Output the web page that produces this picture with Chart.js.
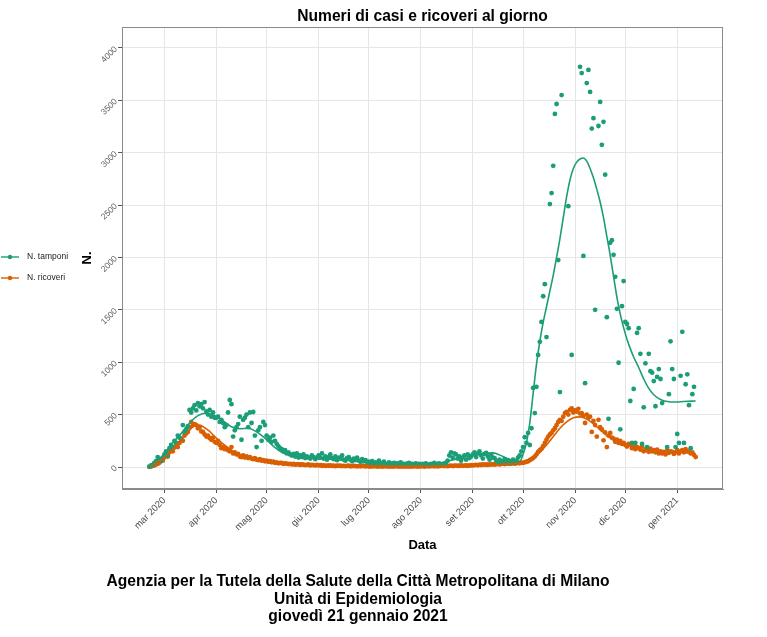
<!DOCTYPE html>
<html>
<head>
<meta charset="utf-8">
<script src="https://cdn.jsdelivr.net/npm/chart.js@4.4.0/dist/chart.umd.min.js"></script>
<style>
  body { margin: 0; background: #fff; font-family: "Liberation Sans", Arial, sans-serif; }
  #wrap { position: relative; width: 767px; height: 637px; overflow: hidden; }
  #chart { position: absolute; left: 0; top: 0; }
  .title { position: absolute; left: 122px; width: 601px; top: 7px; text-align: center; font-weight: bold; font-size: 15.6px; color: #000; }
  .footer { position: absolute; left: 0; width: 716px; top: 572px; text-align: center; font-weight: bold; font-size: 15.6px; line-height: 17.5px; color: #000; }
</style>
</head>
<body>
<div id="wrap">
  <canvas id="chart" width="767" height="637"></canvas>
  <div class="title">Numeri di casi e ricoveri al giorno</div>
  <div class="footer">Agenzia per la Tutela della Salute della Città Metropolitana di Milano<br>Unità di Epidemiologia<br>giovedì 21 gennaio 2021</div>
</div>
<script>
// first day in the daily arrays
const firstDate = "2020-02-21";

const seriesNames = ["N. tamponi", "N. ricoveri"];
const monthDates = ["2020-03-01", "2020-04-01", "2020-05-01", "2020-06-01", "2020-07-01", "2020-08-01",
  "2020-09-01", "2020-10-01", "2020-11-01", "2020-12-01", "2021-01-01"];
const monthLabels = ["mar 2020", "apr 2020", "mag 2020", "giu 2020", "lug 2020", "ago 2020",
  "set 2020", "ott 2020", "nov 2020", "dic 2020", "gen 2021"];
const yTicks = [0, 500, 1000, 1500, 2000, 2500, 3000, 3500, 4000];

// N. tamponi, one value per day (null = no point visible)
const tamponiFeb = [3, 15, 20, 40, 55, 95, 70, 60, 90];
const tamponiMar = [120, 150, 110, 180, 210, 190, 250, 230, 300, 280, 270, 400, 330, 360, 390, 545, 520, 560, 590, 540, 610, 580, 600, 560, 620, 530, 500, 545, 480, 520, 470];
const tamponiApr = [470, 480, 430, 450, 420, 380, 400, 520, 640, 600, 290, 350, 380, 410, 480, 260, 450, 470, 500, 380, 520, 420, 525, 300, 190, 350, 380, 250, 430, 400];
const tamponiMay = [300, 260, 280, 240, 300, 250, 220, 200, 180, 170, 150, 160, 130, 140, 120, 110, 125, 100, 130, 90, 110, 95, 120, 85, 100, 90, 80, 110, 95, 75, 90];
const tamponiJun = [110, 90, 130, 80, 100, 70, 95, 120, 85, 75, 100, 65, 90, 80, 110, 70, 60, 85, 95, 70, 55, 80, 65, 90, 60, 50, 75, 55, 65, 45];
const tamponiJul = [50, 40, 55, 35, 45, 30, 60, 40, 35, 50, 30, 25, 45, 35, 30, 40, 20, 35, 30, 45, 25, 30, 20, 35, 40, 25, 30, 20, 35, 25, 30];
const tamponiAug = [25, 30, 20, 35, 25, 15, 30, 20, 40, 25, 30, 35, 20, 25, 30, 40, 60, 110, 140, 90, 130, 120, 80, 100, 60, 90, 110, 70, 120, 85, 100];
const tamponiSep = [120, 140, 95, 130, 150, 110, 80, 125, 135, 100, 70, 115, 90, 85, 60, 45, 70, 40, 55, 75, 35, 65, 50, 40, 70, 45, 60, 90, 110, 150];
const tamponiOct = [190, 285, 230, 325, 210, 370, 755, 515, 765, 1070, 1195, 1385, 1630, 1745, 1240, null, 2510, 2615, 2875, 3370, 3465, 1975, 715, 3550, null, null, null, 2490, null, 1070, null];
const tamponiNov = [null, null, null, 3820, 3760, 2015, 800, 3665, 3790, 3580, 3230, 3330, 1500, null, 3255, 3485, 3075, 3295, 2790, 1430, 460, 2140, 2165, 2025, 1815, 1510, 995, 360, 1535, 1775];
const tamponiDec = [1385, 1365, 1325, 630, 230, 745, 230, 1280, 1325, 1080, 220, 570, 990, 190, 1080, 915, 900, 820, 580, 860, 935, 840, 610, null, null, 190, 695, 1200, 935, 840, 190];
const tamponiJan = [315, 230, 870, 1290, 230, 790, 885, 590, 180, 695, 765, null];

// N. ricoveri, one value per day
const ricoveriFeb = [2, 5, 10, 15, 25, 30, 40, 55, 60];
const ricoveriMar = [90, 110, 100, 140, 160, 150, 185, 200, 190, 230, 260, 250, 300, 320, 335, 380, 430, 400, 410, 400, 370, 380, 340, 335, 310, 290, 300, 275, 260, 280, 240];
const ricoveriApr = [230, 250, 210, 180, 190, 170, 175, 160, 150, 190, 130, 140, 120, 125, 100, 95, 110, 90, 100, 85, 95, 80, 75, 85, 70, 65, 75, 60, 65, 55];
const ricoveriMay = [60, 50, 55, 45, 50, 40, 45, 35, 40, 38, 30, 35, 32, 28, 30, 25, 30, 22, 25, 28, 20, 25, 22, 18, 20, 25, 15, 20, 18, 15, 20];
const ricoveriJun = [15, 18, 12, 15, 10, 14, 12, 16, 10, 12, 8, 14, 10, 12, 9, 11, 8, 10, 12, 7, 9, 10, 8, 6, 9, 7, 10, 8, 6, 8];
const ricoveriJul = [7, 5, 8, 6, 9, 5, 6, 7, 4, 6, 8, 5, 7, 4, 6, 5, 8, 6, 4, 7, 5, 6, 5, 7, 4, 6, 5, 8, 6, 5, 7];
const ricoveriAug = [6, 8, 5, 7, 9, 6, 8, 10, 7, 9, 6, 8, 10, 12, 9, 11, 8, 10, 13, 9, 12, 14, 10, 12, 15, 11, 13, 16, 12, 14, 17];
const ricoveriSep = [15, 18, 20, 16, 22, 19, 25, 21, 24, 20, 26, 23, 28, 22, 27, 30, 25, 29, 32, 28, 31, 35, 30, 33, 37, 32, 36, 40, 35, 42];
const ricoveriOct = [40, 45, 50, 55, 65, 75, 85, 100, 120, 145, 160, 175, 200, 230, 260, 290, 310, 325, 350, 370, 400, 430, 450, 440, 480, 515, 525, 500, 545, 560, 520];
const ricoveriNov = [540, 530, 555, 510, 515, 490, 420, 500, 470, 480, 335, 440, 400, 290, 450, 380, 360, 255, 330, 190, 300, 325, 280, 270, 240, 260, 230, 250, 220, 230];
const ricoveriDec = [210, 195, 220, 210, 180, 200, 170, 190, 180, 165, 200, 150, 170, 160, 145, 175, 150, 160, 140, 165, 130, 150, 130, 145, 120, 160, 135, 150, 145, 125, 140];
const ricoveriJan = [160, 130, 150, 160, 140, 170, 150, 145, 130, 140, 115, 95];

// smoothed curves (days since 1 Mar 2020, value)
const tamponiSmoothDays = [-9, -5, 0, 5, 10, 15, 20, 25, 30, 35, 40, 45, 50, 55, 60, 65, 70, 75, 80, 90, 100, 110, 120, 130, 140, 150, 160, 170, 180, 190, 196, 202, 208, 212, 214, 216, 218, 220, 222, 224, 226, 228, 230, 232, 234, 236, 238, 240, 242, 244, 246, 248, 250, 252, 254, 256, 258, 260, 262, 264, 266, 268, 270, 272, 274, 276, 278, 280, 283, 286, 289, 292, 296, 300, 305, 310, 317];
const tamponiSmooth = [10, 60, 120, 230, 320, 420, 490, 515, 490, 440, 385, 365, 370, 335, 275, 200, 140, 110, 95, 80, 75, 65, 55, 40, 35, 30, 30, 60, 100, 130, 135, 100, 60, 55, 120, 230, 420, 700, 980, 1200, 1380, 1530, 1680, 1830, 2000, 2180, 2380, 2580, 2740, 2850, 2910, 2940, 2950, 2920, 2850, 2760, 2650, 2530, 2380, 2200, 2020, 1820, 1620, 1460, 1330, 1220, 1130, 1050, 950, 840, 750, 690, 645, 625, 620, 625, 630];
const ricoveriSmoothDays = [-9, -5, 0, 5, 10, 15, 18, 21, 24, 27, 30, 35, 40, 45, 50, 55, 60, 70, 80, 90, 100, 110, 120, 140, 160, 180, 195, 205, 212, 216, 220, 224, 228, 232, 236, 240, 244, 248, 252, 256, 260, 264, 268, 272, 276, 280, 288, 298, 308, 317];
const ricoveriSmooth = [5, 40, 90, 170, 260, 350, 395, 400, 375, 340, 290, 220, 160, 120, 95, 75, 60, 40, 30, 22, 15, 10, 8, 6, 8, 12, 20, 30, 38, 55, 90, 140, 210, 290, 370, 430, 470, 478, 458, 412, 355, 300, 260, 230, 205, 190, 160, 145, 145, 115];

const GREEN = "#1b9e77";
const ORANGE = "#d95f02";
const FONT = '"Liberation Sans", Arial, sans-serif';

const origin = Date.UTC(2020, 2, 1);
const toDay = s => {
  const [y, m, d] = s.split("-").map(Number);
  return Math.round((Date.UTC(y, m - 1, d) - origin) / 86400000);
};
const monthDays = monthDates.map(toDay);

const dailyPoints = months => {
  const start = toDay(firstDate);
  return months.flat()
    .map((v, i) => ({ x: start + i, y: v }))
    .filter(p => p.y !== null);
};
const curve = (days, vals) => days.map((d, i) => ({ x: d, y: vals[i] }));

const tamponiPts = dailyPoints([tamponiFeb, tamponiMar, tamponiApr, tamponiMay, tamponiJun, tamponiJul,
  tamponiAug, tamponiSep, tamponiOct, tamponiNov, tamponiDec, tamponiJan]);
const ricoveriPts = dailyPoints([ricoveriFeb, ricoveriMar, ricoveriApr, ricoveriMay, ricoveriJun, ricoveriJul,
  ricoveriAug, ricoveriSep, ricoveriOct, ricoveriNov, ricoveriDec, ricoveriJan]);

Chart.defaults.font.family = FONT;

// left legend + full panel border, ggplot style
const decor = {
  id: "decor",
  afterDraw(chart) {
    const { ctx, chartArea: a } = chart;
    ctx.save();
    ctx.strokeStyle = "#8a8a8a";
    ctx.lineWidth = 1;
    ctx.strokeRect(a.left + 0.5, a.top + 0.5, a.right - a.left - 1, a.bottom - a.top - 1);

    const colors = [GREEN, ORANGE];
    seriesNames.forEach((name, i) => {
      const y = 257 + i * 21;
      ctx.strokeStyle = colors[i];
      ctx.lineWidth = 1.4;
      ctx.beginPath();
      ctx.moveTo(1, y);
      ctx.lineTo(19, y);
      ctx.stroke();
      ctx.fillStyle = colors[i];
      ctx.beginPath();
      ctx.arc(10, y, 2.2, 0, Math.PI * 2);
      ctx.fill();
      ctx.fillStyle = "#222";
      ctx.font = "8.5px " + FONT;
      ctx.textBaseline = "middle";
      ctx.fillText(name, 27, y);
    });
    ctx.restore();
  }
};

const gridOpts = { color: "#e6e6e6", lineWidth: 1, tickColor: "#555", tickLength: 4 };

new Chart(document.getElementById("chart"), {
  type: "scatter",
  data: {
    datasets: [
      { label: seriesNames[1], data: ricoveriPts, backgroundColor: ORANGE, pointRadius: 2.4, pointBorderWidth: 0, order: 4 },
      { label: seriesNames[0], data: tamponiPts, backgroundColor: GREEN, pointRadius: 2.4, pointBorderWidth: 0, order: 3 },
      { label: seriesNames[1], data: curve(ricoveriSmoothDays, ricoveriSmooth), showLine: true, borderColor: ORANGE,
        borderWidth: 1.6, pointRadius: 0, cubicInterpolationMode: "monotone", order: 2 },
      { label: seriesNames[0], data: curve(tamponiSmoothDays, tamponiSmooth), showLine: true, borderColor: GREEN,
        borderWidth: 1.6, pointRadius: 0, cubicInterpolationMode: "monotone", order: 1 }
    ]
  },
  options: {
    responsive: false,
    animation: false,
    events: [],
    layout: { padding: { left: 80, right: 44, top: 27, bottom: 84 } },
    plugins: { legend: { display: false }, tooltip: { enabled: false } },
    scales: {
      x: {
        type: "linear",
        min: -25.3,
        max: 333.3,
        afterBuildTicks: s => { s.ticks = monthDays.map(v => ({ value: v })); },
        afterFit: s => { s.height = 64; },
        ticks: {
          autoSkip: false, minRotation: 45, maxRotation: 45, padding: 2,
          color: "#4d4d4d", font: { size: 9.5 },
          callback: (v, i) => monthLabels[i]
        },
        grid: gridOpts,
        border: { color: "#8a8a8a" },
        title: { display: true, text: "Data", color: "#000", font: { size: 13, weight: "bold" }, padding: { top: 0, bottom: 0 } }
      },
      y: {
        min: -210,
        max: 4200,
        afterBuildTicks: s => { s.ticks = yTicks.map(v => ({ value: v })); },
        afterFit: s => { s.width = 42; },
        ticks: {
          minRotation: 45, maxRotation: 45, padding: 2, color: "#5e5e5e", font: { size: 8.5 },
          callback: v => String(v)
        },
        grid: gridOpts,
        border: { color: "#8a8a8a" },
        title: { display: true, text: "N.", color: "#000", font: { size: 13, weight: "bold" }, padding: { top: 0, bottom: 0 } }
      }
    }
  },
  plugins: [decor]
});
</script>
</body>
</html>
